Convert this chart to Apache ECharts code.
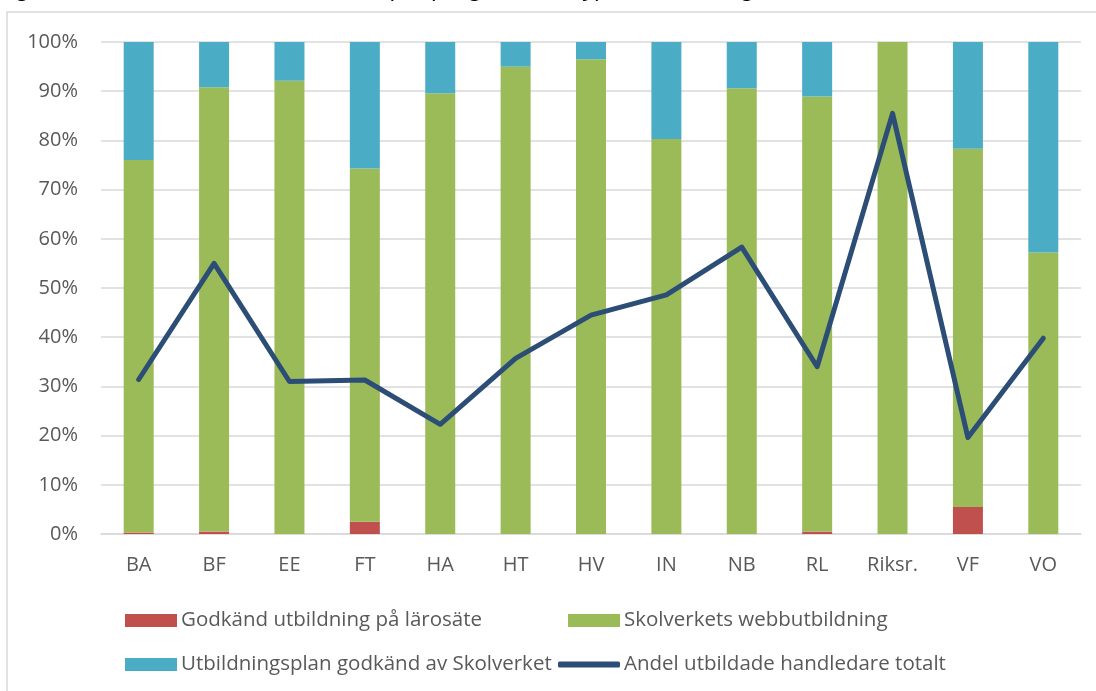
<!DOCTYPE html>
<html>
<head>
<meta charset="utf-8">
<script src="https://cdn.jsdelivr.net/npm/echarts@6/dist/echarts.min.js"></script>
<style>
  html, body { margin: 0; padding: 0; background: #fff; }
  #chart { width: 1096px; height: 691px; }
</style>
</head>
<body>
<div id="chart"></div>
<script>
const categories = ['BA', 'BF', 'EE', 'FT', 'HA', 'HT', 'HV', 'IN', 'NB', 'RL', 'Riksr.', 'VF', 'VO'];
const godkandLarosate = [0.3, 0.5, 0, 2.5, 0, 0, 0, 0, 0, 0.5, 0, 5.5, 0];
const skolverketWebb = [75.7, 90.3, 92.1, 71.8, 89.6, 95.0, 96.5, 80.3, 90.6, 88.4, 100, 72.8, 57.2];
const utbildningsplan = [24.0, 9.2, 7.9, 25.7, 10.4, 5.0, 3.5, 19.7, 9.4, 11.1, 0, 21.7, 42.8];
const andelTotalt = [31.4, 55.0, 31.0, 31.3, 22.3, 35.7, 44.5, 48.6, 58.3, 34.0, 85.5, 19.6, 39.8];
const yTicks = [0, 10, 20, 30, 40, 50, 60, 70, 80, 90, 100];

const names = [
  'Godkänd utbildning på lärosäte',
  'Skolverkets webbutbildning',
  'Utbildningsplan godkänd av Skolverket',
  'Andel utbildade handledare totalt'
];
const colors = ['#c0504d', '#9bbb59', '#4bacc6', '#2c4d75'];

const font = '"Open Sans", Lato, sans-serif';
const textColor = '#595959';

const chart = echarts.init(document.getElementById('chart'));

const legendAt = (i, left, top, extra) => Object.assign({
  data: [names[i]],
  left: left,
  top: top,
  padding: 0,
  itemWidth: 52,
  itemHeight: 13,
  icon: 'rect',
  selectedMode: false,
  textStyle: { fontFamily: font, fontSize: 20.5, color: textColor, padding: [0, 0, 0, -1] }
}, extra || {});

const option = {
  animation: false,
  backgroundColor: '#fff',
  graphic: [
    {
      type: 'rect',
      shape: { x: 7, y: 12, width: 1120, height: 720 },
      style: { fill: null, stroke: '#d9d9d9', lineWidth: 1.5 },
      silent: true
    },
    {
      type: 'text',
      left: 0,
      top: -24,
      style: {
        text: 'Figur 5. Andel utbildade handledare, per program och typ av utbildning',
        font: 'italic 24px ' + font,
        fill: '#000'
      },
      silent: true
    }
  ],
  legend: [
    legendAt(0, 125, 610),
    legendAt(1, 568, 610),
    legendAt(2, 125, 654),
    legendAt(3, 558, 654, { icon: 'roundRect', itemWidth: 62, itemHeight: 6 })
  ],
  grid: { left: 101, right: 15, top: 42, bottom: 157 },
  xAxis: {
    type: 'category',
    data: categories,
    axisTick: { show: false },
    axisLine: { lineStyle: { color: '#d9d9d9', width: 1.5 } },
    axisLabel: { fontFamily: font, fontSize: 20, color: textColor, margin: 21 }
  },
  yAxis: {
    type: 'value',
    min: yTicks[0],
    max: yTicks[yTicks.length - 1],
    interval: 10,
    axisLine: { show: false },
    axisTick: { show: false },
    splitLine: { lineStyle: { color: '#d9d9d9', width: 1.5 } },
    axisLabel: { fontFamily: font, fontSize: 20, color: textColor, margin: 23, formatter: '{value}%' }
  },
  series: [
    { name: names[0], type: 'bar', stack: 'typ', barWidth: 30, data: godkandLarosate, itemStyle: { color: colors[0] } },
    { name: names[1], type: 'bar', stack: 'typ', barWidth: 30, data: skolverketWebb, itemStyle: { color: colors[1] } },
    { name: names[2], type: 'bar', stack: 'typ', barWidth: 30, data: utbildningsplan, itemStyle: { color: colors[2] } },
    {
      name: names[3],
      type: 'line',
      data: andelTotalt,
      symbol: 'none',
      z: 5,
      lineStyle: { color: colors[3], width: 5, cap: 'round', join: 'round' },
      itemStyle: { color: colors[3] }
    }
  ]
};

chart.setOption(option);
</script>
</body>
</html>
